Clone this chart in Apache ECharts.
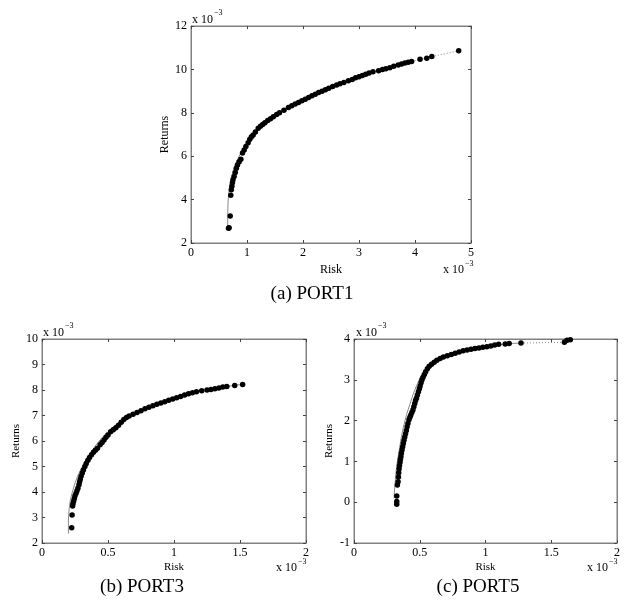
<!DOCTYPE html>
<html>
<head>
<meta charset="utf-8">
<script src="https://cdn.jsdelivr.net/npm/echarts@6/dist/echarts.min.js"></script>
<style>
html,body{margin:0;padding:0;background:#fff;}
#chart{width:630px;height:607px;}
</style>
</head>
<body>
<div id="chart"></div>
<script>
// ---- Data (values in units of 10^-3) ----
const port1Points = [
[0.67,2.68],[0.68,2.70],[0.70,3.25],[0.71,4.20],[0.72,4.45],[0.73,4.62],[0.74,4.78],[0.75,4.92],
[0.77,5.06],[0.79,5.25],[0.81,5.45],[0.83,5.60],[0.86,5.75],[0.89,5.86],[0.92,6.15],[0.95,6.29],
[0.98,6.45],[1.02,6.62],[1.05,6.78],[1.08,6.90],[1.11,6.98],[1.15,7.12],[1.20,7.29],[1.24,7.38],
[1.28,7.46],[1.32,7.54],[1.37,7.64],[1.42,7.73],[1.47,7.82],[1.53,7.92],[1.58,8.00],[1.66,8.12],
[1.74,8.24],[1.80,8.33],[1.86,8.40],[1.92,8.48],[1.98,8.56],[2.04,8.63],[2.10,8.71],[2.16,8.78],
[2.22,8.85],[2.28,8.93],[2.34,8.99],[2.40,9.06],[2.46,9.13],[2.53,9.21],[2.60,9.28],[2.66,9.34],
[2.73,9.40],[2.81,9.48],[2.88,9.54],[2.94,9.61],[3.00,9.66],[3.06,9.72],[3.12,9.78],[3.18,9.83],
[3.25,9.89],[3.35,9.94],[3.42,9.99],[3.48,10.03],[3.55,10.08],[3.62,10.14],[3.70,10.20],[3.76,10.25],
[3.82,10.29],[3.88,10.33],[3.94,10.36],[4.09,10.47],[4.21,10.51],[4.30,10.59],[4.78,10.86]
];
const port1Frontier = [
[0.655,2.72],[0.655,3.2],[0.66,3.8],[0.67,4.2],[0.69,4.6],[0.72,5.0],[0.76,5.4],[0.82,5.8],
[0.90,6.2],[1.0,6.6],[1.12,7.0],[1.3,7.5],[1.5,7.9],[2.0,8.58],[2.5,9.18],[3.0,9.67],[3.5,10.06],
[3.94,10.36]
];
const port1Dotted = [[3.94,10.36],[4.30,10.59],[4.78,10.86]];

const port3Points = [
[0.225,2.60],[0.228,3.10],[0.232,3.45],[0.235,3.55],[0.24,3.65],[0.245,3.75],[0.25,3.85],[0.258,3.95],
[0.265,4.05],[0.272,4.15],[0.28,4.28],[0.285,4.40],[0.29,4.50],[0.296,4.62],[0.305,4.75],[0.314,4.86],
[0.325,5.00],[0.335,5.12],[0.348,5.25],[0.36,5.35],[0.375,5.46],[0.39,5.56],[0.405,5.64],[0.42,5.72],
[0.44,5.85],[0.455,5.94],[0.47,6.04],[0.485,6.15],[0.50,6.24],[0.52,6.36],[0.54,6.44],[0.56,6.52],
[0.58,6.62],[0.60,6.74],[0.62,6.84],[0.64,6.92],[0.66,6.98],[0.69,7.05],[0.72,7.12],[0.75,7.19],
[0.78,7.26],[0.81,7.32],[0.84,7.38],[0.87,7.44],[0.90,7.49],[0.93,7.54],[0.96,7.60],[0.99,7.65],
[1.02,7.70],[1.05,7.75],[1.08,7.80],[1.11,7.85],[1.14,7.89],[1.17,7.93],[1.21,7.97],[1.25,8.00],
[1.28,8.02],[1.31,8.05],[1.34,8.08],[1.37,8.12],[1.40,8.14],[1.46,8.18],[1.52,8.22]
];
const port3Frontier = [
[0.20,2.37],[0.20,2.9],[0.205,3.3],[0.215,3.7],[0.23,4.0],[0.25,4.35],[0.27,4.62],[0.30,4.95],
[0.33,5.22],[0.37,5.55],[0.41,5.85],[0.45,6.1],[0.50,6.37],[0.55,6.6],[0.60,6.8],[0.65,6.95],
[0.70,7.08],[0.80,7.3],[0.90,7.49],[1.0,7.66],[1.1,7.83],[1.2,7.96],[1.3,8.04],[1.4,8.14],[1.52,8.22]
];

const port5Points = [
[0.325,-0.05],[0.325,0.02],[0.325,0.15],[0.33,0.42],[0.335,0.50],[0.338,0.62],[0.34,0.72],[0.343,0.82],
[0.346,0.90],[0.35,0.98],[0.353,1.05],[0.357,1.12],[0.36,1.20],[0.365,1.28],[0.37,1.36],[0.375,1.44],
[0.38,1.52],[0.386,1.60],[0.392,1.68],[0.398,1.76],[0.404,1.85],[0.41,1.93],[0.418,2.02],[0.425,2.08],
[0.432,2.14],[0.44,2.20],[0.448,2.26],[0.455,2.34],[0.462,2.42],[0.468,2.49],[0.475,2.55],[0.482,2.63],
[0.49,2.71],[0.497,2.78],[0.503,2.85],[0.51,2.93],[0.517,3.00],[0.525,3.06],[0.535,3.13],[0.545,3.20],
[0.558,3.27],[0.572,3.33],[0.59,3.38],[0.61,3.43],[0.63,3.48],[0.655,3.52],[0.68,3.56],[0.71,3.59],
[0.74,3.62],[0.77,3.65],[0.80,3.68],[0.83,3.71],[0.86,3.73],[0.89,3.75],[0.92,3.77],[0.95,3.78],
[0.98,3.80],[1.01,3.81],[1.04,3.83],[1.07,3.85],[1.10,3.87],[1.15,3.88],[1.18,3.89],[1.27,3.90],
[1.60,3.92],[1.62,3.97],[1.645,3.98]
];
const port5Frontier = [
[0.305,0.10],[0.308,0.3],[0.313,0.5],[0.32,0.75],[0.33,1.0],[0.345,1.3],[0.36,1.6],[0.38,1.9],
[0.40,2.15],[0.425,2.4],[0.45,2.65],[0.475,2.85],[0.50,3.03],[0.53,3.2],[0.56,3.32],[0.60,3.42],
[0.65,3.51],[0.80,3.68],[1.0,3.81],[1.18,3.89],[1.27,3.90]
];
const port5Dotted = [[1.27,3.90],[1.60,3.92],[1.645,3.98]];

const panels = [
  {name:'(a) PORT1', xMin:0, xMax:5, xInt:1, yMin:2, yMax:12, yInt:2},
  {name:'(b) PORT3', xMin:0, xMax:2, xInt:0.5, yMin:2, yMax:10, yInt:1},
  {name:'(c) PORT5', xMin:0, xMax:2, xInt:0.5, yMin:-1, yMax:4, yInt:1}
];

// ---- Layout ----
const AX = '#808080';
const grids = [
  {left:191, top:26, width:280, height:217},
  {left:42, top:339, width:264, height:204},
  {left:354, top:339, width:263, height:204}
].map(g => Object.assign(g, {show:true, borderColor:AX, borderWidth:1, backgroundColor:'transparent'}));
const FONT = 'Liberation Serif';

const xAxes = [], yAxes = [];
panels.forEach((p, i) => {
  const common = {
    gridIndex:i, splitLine:{show:false},
    axisLine:{show:true, onZero:false, lineStyle:{color:AX, width:1}},
    axisTick:{show:true, inside:true, length:3, lineStyle:{color:'#444'}}
  };
  xAxes.push(Object.assign({}, common, {
    type:'value', position:'bottom', min:p.xMin, max:p.xMax, interval:p.xInt,
    axisLabel:{color:'#000', fontFamily:FONT, fontSize:12, margin:4},
    name:'Risk', nameLocation:'middle', nameGap:i===0?21:19,
    nameTextStyle:{color:'#000', fontFamily:FONT, fontSize:i===0?12:11}
  }));
  xAxes.push(Object.assign({}, common, {
    type:'value', position:'top', min:p.xMin, max:p.xMax, interval:p.xInt,
    axisLabel:{show:false}
  }));
  yAxes.push(Object.assign({}, common, {
    type:'value', position:'left', min:p.yMin, max:p.yMax, interval:p.yInt,
    axisLabel:{color:'#000', fontFamily:FONT, fontSize:12, margin:4},
    name:'Returns', nameLocation:'middle', nameGap:i===0?20:19,
    nameTextStyle:{color:'#000', fontFamily:FONT, fontSize:i===0?12:11}
  }));
  yAxes.push(Object.assign({}, common, {
    type:'value', position:'right', min:p.yMin, max:p.yMax, interval:p.yInt,
    axisLabel:{show:false}
  }));
});

function scatter(i, data){
  return {type:'scatter', xAxisIndex:2*i, yAxisIndex:2*i, data:data,
    symbolSize:5.5, itemStyle:{color:'#000', opacity:1}, z:3, silent:true};
}
function line(i, data, dotted){
  return {type:'line', xAxisIndex:2*i, yAxisIndex:2*i, data:data, showSymbol:false,
    lineStyle:{color:'#8a8a8a', width:1, type: dotted ? [1,2] : 'solid'}, z:2, silent:true};
}

const series = [
  line(0, port1Frontier, false), line(0, port1Dotted, true), scatter(0, port1Points),
  line(1, port3Frontier, false), scatter(1, port3Points),
  line(2, port5Frontier, false), line(2, port5Dotted, true), scatter(2, port5Points)
];

function txt(x, y, s, size, align){
  return {type:'text', x:x, y:y, style:{text:s, fill:'#000', font: size+'px "'+FONT+'"',
    textAlign:align||'left', textVerticalAlign:'middle'}};
}
const graphics = [
  txt(192, 20, 'x 10', 12), txt(214, 13, '\u22123', 8),
  txt(443, 270, 'x 10', 12), txt(465, 264, '\u22123', 8),
  txt(43, 333, 'x 10', 12), txt(65, 326, '\u22123', 8),
  txt(276, 568, 'x 10', 12), txt(298, 562, '\u22123', 8),
  txt(356, 333, 'x 10', 12), txt(378, 326, '\u22123', 8),
  txt(587, 568, 'x 10', 12), txt(609, 562, '\u22123', 8),
  txt(312, 294, panels[0].name, 19, 'center'),
  txt(142, 587, panels[1].name, 19, 'center'),
  txt(478, 587, panels[2].name, 19, 'center')
];

const chart = echarts.init(document.getElementById('chart'), null, {renderer:'canvas'});
chart.setOption({
  animation:false,
  backgroundColor:'#fff',
  grid: grids,
  xAxis: xAxes,
  yAxis: yAxes,
  series: series,
  graphic: graphics
});
</script>
</body>
</html>
